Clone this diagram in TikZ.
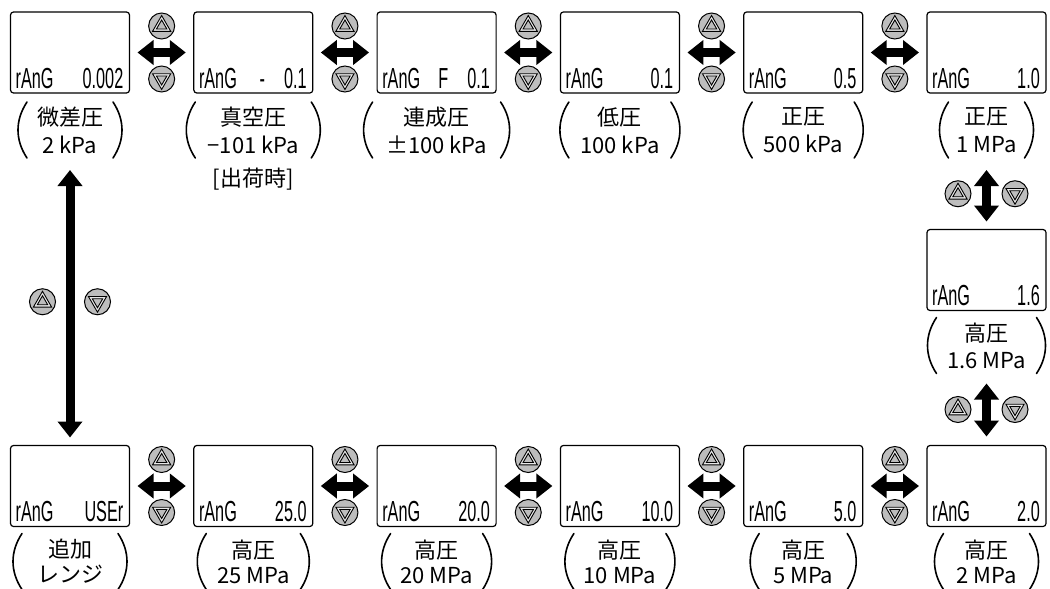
\documentclass[tikz,border=0pt]{standalone}
\usepackage{fontspec}
\newfontfamily\jpfont{Noto Sans CJK JP}
\newfontfamily\segfont{Liberation Sans}
\usepackage{xcolor}
\definecolor{Button Grey}{HTML}{BDBDBD}
\definecolor{Light Grey}{HTML}{E8E8E8}
\colorlet{cBtn}{Button Grey}
\colorlet{cTri}{Light Grey}
\usepackage{tikz}
\usetikzlibrary{calc, arrows.meta, positioning}
\newcommand{\seg}[1]{{\segfont\fontsize{29}{29}\selectfont\scalebox{.56}[1]{#1}}}
\tikzset{
	x = 1pt,
	y = -1pt,
	node distance = 64.3pt,
	line width = 1pt,
	>={Triangle[length=16pt, width=24pt]},
	display/.style={
		draw,
		rounded corners=3pt,
		line width=1.2pt,
		minimum width=119pt,
		minimum height=81pt,
		inner sep=0pt,
		outer sep=0pt
	},
	segl/.style={anchor=base west, inner sep=0pt},
	segr/.style={anchor=base east, inner sep=0pt},
	rangelbl/.style={
		font=\jpfont\fontsize{22}{27}\selectfont,
		align=center,
		minimum height=56pt,
		inner sep=0pt,
		outer sep=0pt
	},
	paren/.style={line width=1.6pt, line cap=round},
	edge/.style={
		<->,
		line width=9pt,
		shorten <=8pt,
		shorten >=8pt
	},
	button/.style={
		circle,
		draw,
		fill=cBtn,
		line width=1pt,
		minimum size=26pt,
		inner sep=0pt
	},
	btnup/.style={
		button,
		path picture={
			\draw[shift={(path picture bounding box.center)}, line width=.9pt, fill=cTri]
				(0pt,10.5pt) -- (-9.1pt,-5.3pt) -- (9.1pt,-5.3pt) -- cycle;
			\draw[shift={(path picture bounding box.center)}, line width=.9pt, fill=cBtn]
				(0pt,6pt) -- (-5.2pt,-3pt) -- (5.2pt,-3pt) -- cycle;
		}
	},
	btndn/.style={
		button,
		path picture={
			\draw[shift={(path picture bounding box.center)}, line width=.9pt, fill=cTri]
				(0pt,-10.5pt) -- (-9.1pt,5.3pt) -- (9.1pt,5.3pt) -- cycle;
			\draw[shift={(path picture bounding box.center)}, line width=.9pt, fill=cBtn]
				(0pt,-6pt) -- (-5.2pt,3pt) -- (5.2pt,3pt) -- cycle;
		}
	}
}

\begin{document}
\begin{tikzpicture}
\useasboundingbox (0,0) rectangle (1050,589);

% ---
% displays, clockwise
% ---
\node[display] at (70,52.5) (d-0) {};
\node[display, right=of d-0] (d-1) {};
\node[display, right=of d-1] (d-2) {};
\node[display, right=of d-2] (d-3) {};
\node[display, right=of d-3] (d-4) {};
\node[display, right=of d-4] (d-5) {};
\node[display, below=136.5pt of d-5] (d-6) {};
\node[display, below=135pt of d-6] (d-7) {};
\node[display, left=of d-7] (d-8) {};
\node[display, left=of d-8] (d-9) {};
\node[display, left=of d-9] (d-10) {};
\node[display, left=of d-10] (d-11) {};
\node[display, left=of d-11] (d-12) {};

\foreach \i/\v in {0/0.002, 1/{-\hspace{34pt}0.1}, 2/{F\hspace{34pt}0.1}, 3/0.1, 4/0.5, 5/1.0,
		6/1.6, 7/2.0, 8/5.0, 9/10.0, 10/20.0, 11/25.0, 12/USEr} {
	\node[segl] (t-\i) at ([shift={(5pt,5pt)}]d-\i.south west) {\seg{rAnG}};
	\node[segr] (v-\i) at ([shift={(-6pt,5pt)}]d-\i.south east) {\seg{\v}};
}

% ---
% ranges
% ---
\foreach \i/\a/\b/\w/\g/\k in {0/微差圧/2 kPa/52/9/28, 1/真空圧/−101 kPa/67/9/28, 2/連成圧/±100 kPa/73/9/28,
		3/低圧/100 kPa/60/9/28, 4/正圧/500 kPa/60/9/28, 5/正圧/1 MPa/47/9/28, 6/高圧/1.6 MPa/59/7/27,
		7/高圧/2 MPa/52/7/25, 8/高圧/5 MPa/53/7/25, 9/高圧/10 MPa/55/7/25, 10/高圧/20 MPa/55/7/25,
		11/高圧/25 MPa/56/7/25, 12/追加/レンジ/57/7/25} {
	\node[rangelbl, font=\jpfont\fontsize{22}{\k}\selectfont, below=\g pt of d-\i] (l-\i) {\a\\\b};
	\draw[paren] ([xshift=9pt-\w pt]l-\i.north) .. controls +(-12pt,-18pt) and +(-12pt,18pt) .. ([xshift=9pt-\w pt]l-\i.south);
	\draw[paren] ([xshift=\w pt-9pt]l-\i.north) .. controls +(12pt,-18pt) and +(12pt,18pt) .. ([xshift=\w pt-9pt]l-\i.south);
}
\node[rangelbl, minimum height=0pt, below=10pt of l-1] (l-1-note) {[出荷時]};

% ---
% up / down steps
% ---
\foreach \a/\b in {0/1, 1/2, 2/3, 3/4, 4/5, 12/11, 11/10, 10/9, 9/8, 8/7} {
	\draw[edge] (d-\a) to (d-\b);
	\path (d-\a) -- (d-\b) coordinate[midway] (m-\a);
	\node[btnup, above=13pt of m-\a] (up-\a) {};
	\node[btndn, below=13pt of m-\a] (dn-\a) {};
}

\draw[edge, shorten <=12pt] (l-5) to (d-6);
\path (l-5) -- (d-6) coordinate[midway] (m-5v);
\node[btnup, left=15pt of m-5v] (up-5v) {};
\node[btndn, right=15pt of m-5v] (dn-5v) {};

\draw[edge, shorten <=10pt, shorten >=9pt] (l-6) to (d-7);
\path (l-6) -- (d-7) coordinate[midway] (m-6);
\node[btnup, left=15pt of m-6] (up-6) {};
\node[btndn, right=15pt of m-6] (dn-6) {};

\draw[edge, shorten <=12pt] (l-0) to (d-12);
\path (l-0.south) -- (d-12.north) coordinate[midway] (m-0v);
\node[btnup, left=14pt of m-0v] (up-0v) {};
\node[btndn, right=14pt of m-0v] (dn-0v) {};
\end{tikzpicture}
\end{document}
